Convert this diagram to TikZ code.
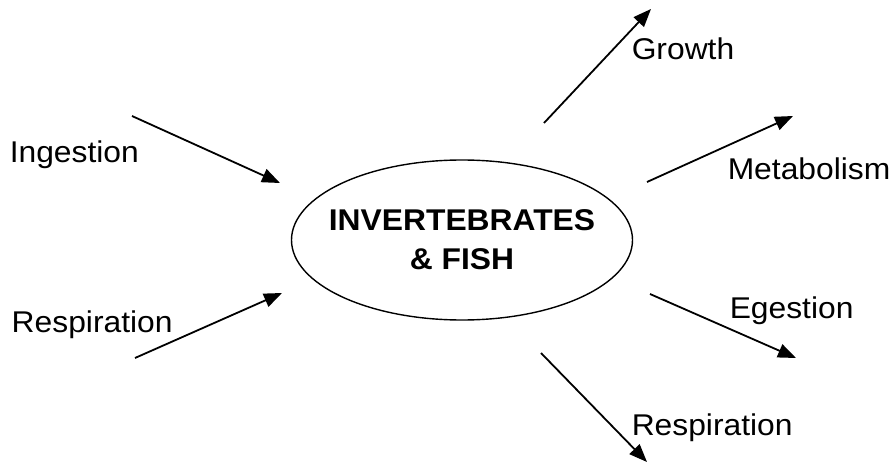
\documentclass[tikz,border=0pt]{standalone}
\usepackage{fontspec}
\setmainfont{Liberation Sans}[FakeStretch=1.06]
\usetikzlibrary{arrows.meta,shapes.geometric}

\tikzset{every picture/.style={line width=1.5pt}}
\tikzset{
	flow/.style={-{Triangle[length=18pt,width=14pt]}, line width=1.8pt},
	label/.style={anchor=base west, inner sep=0pt, font=\fontsize{30}{39}\selectfont},
	pool/.style={draw, ellipse, line width=1.4pt, minimum width=341pt, minimum height=160pt, inner sep=0pt},
	pooltext/.style={align=center, inner sep=0pt, font=\fontsize{30}{39}\selectfont\bfseries}}

\begin{document}
\begin{tikzpicture}[x=1pt,y=1pt,yscale=-1,xscale=1]
	\useasboundingbox (0,0) rectangle (891,465); %set diagram at 891 x 465
	
	%Shape: Ellipse [id:pool]
	\node [pool] (pool) at (462,240) {};
	% Text Node
	\node [pooltext] (pooltext) at (pool.center) {INVERTEBRATES\\\& FISH};
	
	% Text Node
	\node [label] (ingestion) at (9,163) {Ingestion};
	% Text Node
	\node [label] (respin) at (11,332) {Respiration};
	% Text Node
	\node [label] (growth) at (631,60) {Growth};
	% Text Node
	\node [label] (metabolism) at (727,180) {Metabolism};
	% Text Node
	\node [label] (egestion) at (729,318) {Egestion};
	% Text Node
	\node [label] (respout) at (631,435) {Respiration};
	
	% arrow ends
	\coordinate (ingA) at (132,116);   \coordinate (ingB) at (280,183);
	\coordinate (rinA) at (135,358);   \coordinate (rinB) at (282,293);
	\coordinate (groA) at (544,123);   \coordinate (groB) at (651,9);
	\coordinate (metA) at (647,182);   \coordinate (metB) at (793,116);
	\coordinate (egeA) at (650,294);   \coordinate (egeB) at (796,358);
	\coordinate (routA) at (541,353);  \coordinate (routB) at (647,462);
	
	%Straight Lines [id:ingestion]
	\draw [flow] (ingA) -- (ingB);
	%Straight Lines [id:respiration in]
	\draw [flow] (rinA) -- (rinB);
	%Straight Lines [id:growth]
	\draw [flow] (groA) -- (groB);
	%Straight Lines [id:metabolism]
	\draw [flow] (metA) -- (metB);
	%Straight Lines [id:egestion]
	\draw [flow] (egeA) -- (egeB);
	%Straight Lines [id:respiration out]
	\draw [flow] (routA) -- (routB);
	
\end{tikzpicture}
\end{document}
